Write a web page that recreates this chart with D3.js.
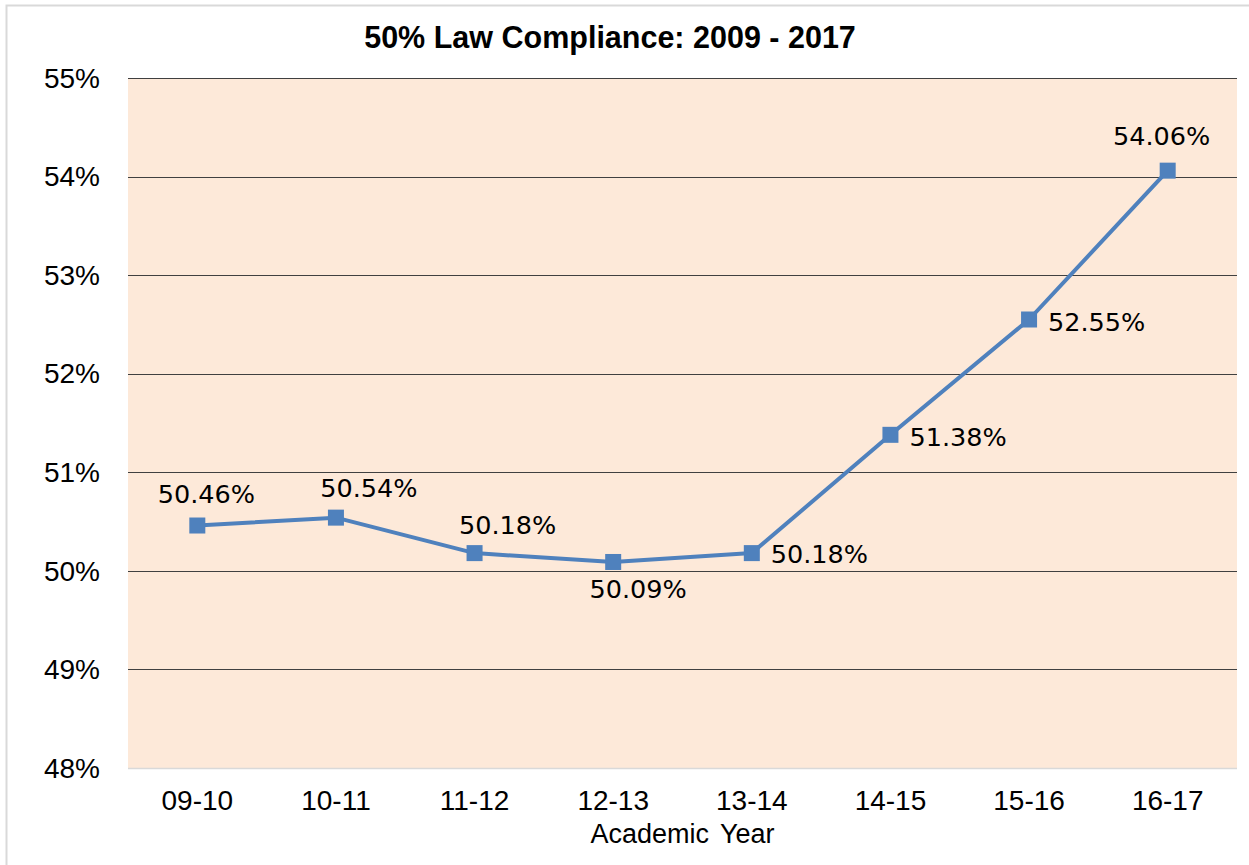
<!DOCTYPE html>
<html>
<head>
<meta charset="utf-8">
<script src="https://cdn.jsdelivr.net/npm/d3@7"></script>
<style>
  body { margin: 0; background: #fff; }
  svg { display: block; }
</style>
</head>
<body>
<script>
// data
var years = ["09-10", "10-11", "11-12", "12-13", "13-14", "14-15", "15-16", "16-17"];
var compliance = [50.46, 50.54, 50.18, 50.09, 50.18, 51.38, 52.55, 54.06];
var yTicks = [48, 49, 50, 51, 52, 53, 54, 55];

// data label placement (as hand-moved in the original chart)
var labelAnchor = ["middle", "middle", "middle", "middle", "start", "start", "start", "middle"];
var labelDx = [9, 33, 33, 25, 19, 19, 19, -6];
var labelDy = [-23, -21, -19, 36, 10, 11, 11, -26];

var chart = {
    width: 1249,
    height: 865,
    left: 128,
    right: 1237,
    top: 78,
    bottom: 768
}

var svg = d3.select("body")
    .append("svg")
    .attr("width", chart.width)
    .attr("height", chart.height)

// outer chart border (only left/top edge visible)
svg.append("rect")
    .attr("x", 6.5)
    .attr("y", 5.5)
    .attr("width", chart.width + 20)
    .attr("height", chart.height + 20)
    .attr("fill", "#fff")
    .attr("stroke", "#d9d9d9")
    .attr("stroke-width", 2)

var x = d3.scaleBand()
    .domain(years)
    .range([chart.left, chart.right])

var y = d3.scaleLinear()
    .domain([48, 55])
    .range([chart.bottom, chart.top])

// plot area
svg.append("rect")
    .attr("x", chart.left)
    .attr("y", chart.top)
    .attr("width", chart.right - chart.left)
    .attr("height", chart.bottom - chart.top)
    .attr("fill", "#fde9d9")

// gridlines
svg.append("g")
    .selectAll("line")
    .data(yTicks.filter(d => d > 48))
    .enter()
    .append("line")
        .attr("x1", chart.left)
        .attr("x2", chart.right)
        .attr("y1", d => Math.round(y(d)) + 0.5)
        .attr("y2", d => Math.round(y(d)) + 0.5)
        .attr("stroke", "#404040")
        .attr("stroke-width", 1)

// x axis line
svg.append("line")
    .attr("x1", chart.left)
    .attr("x2", chart.right)
    .attr("y1", chart.bottom + 0.5)
    .attr("y2", chart.bottom + 0.5)
    .attr("stroke", "#d9d9d9")
    .attr("stroke-width", 1.5)

// y axis (labels only)
var yAxis = svg.append("g")
    .attr("transform", "translate(" + (chart.left - 28) + ",0)")
    .call(d3.axisLeft(y).tickValues(yTicks).tickSize(0).tickFormat(d => d + "%"))
yAxis.select(".domain").remove()
yAxis.selectAll("text")
    .attr("x", 0)
    .attr("dy", "0.33em")
    .attr("font-family", "Liberation Sans, Arial, sans-serif")
    .attr("font-size", 28)
    .attr("fill", "#000")

// x axis (labels only)
var xAxis = svg.append("g")
    .attr("transform", "translate(0," + chart.bottom + ")")
    .call(d3.axisBottom(x).tickSize(0))
xAxis.select(".domain").remove()
xAxis.selectAll("text")
    .attr("y", 0)
    .attr("dy", 42)
    .attr("font-family", "Liberation Sans, Arial, sans-serif")
    .attr("font-size", 28)
    .attr("fill", "#000")

// axis title
svg.append("text")
    .attr("x", (chart.left + chart.right) / 2)
    .attr("y", 843)
    .attr("text-anchor", "middle")
    .attr("font-family", "Liberation Sans, Arial, sans-serif")
    .attr("font-size", 27)
    .attr("word-spacing", 4)
    .text("Academic Year")

// title
svg.append("text")
    .attr("x", 610)
    .attr("y", 48)
    .attr("text-anchor", "middle")
    .attr("font-family", "Liberation Sans, Arial, sans-serif")
    .attr("font-weight", "bold")
    .attr("font-size", 30.5)
    .text("50% Law Compliance: 2009 - 2017")

var cx = (d, i) => x(years[i]) + x.bandwidth() / 2

// line
var line = d3.line()
    .x(cx)
    .y(d => y(d))

svg.append("path")
    .datum(compliance)
    .attr("d", line)
    .attr("fill", "none")
    .attr("stroke", "#4f81bd")
    .attr("stroke-width", 4)
    .attr("stroke-linejoin", "round")

// markers
svg.append("g")
    .selectAll("rect")
    .data(compliance)
    .enter()
    .append("rect")
        .attr("x", (d, i) => cx(d, i) - 8)
        .attr("y", d => y(d) - 8)
        .attr("width", 16)
        .attr("height", 16)
        .attr("fill", "#4f81bd")

// data labels
svg.append("g")
    .selectAll("text")
    .data(compliance)
    .enter()
    .append("text")
        .attr("x", (d, i) => cx(d, i) + labelDx[i])
        .attr("y", (d, i) => y(d) + labelDy[i])
        .attr("text-anchor", (d, i) => labelAnchor[i])
        .attr("font-family", "DejaVu Sans, sans-serif")
        .attr("font-size", 25.5)
        .attr("fill", "#000")
        .text(d => d.toFixed(2) + "%")
</script>
</body>
</html>
